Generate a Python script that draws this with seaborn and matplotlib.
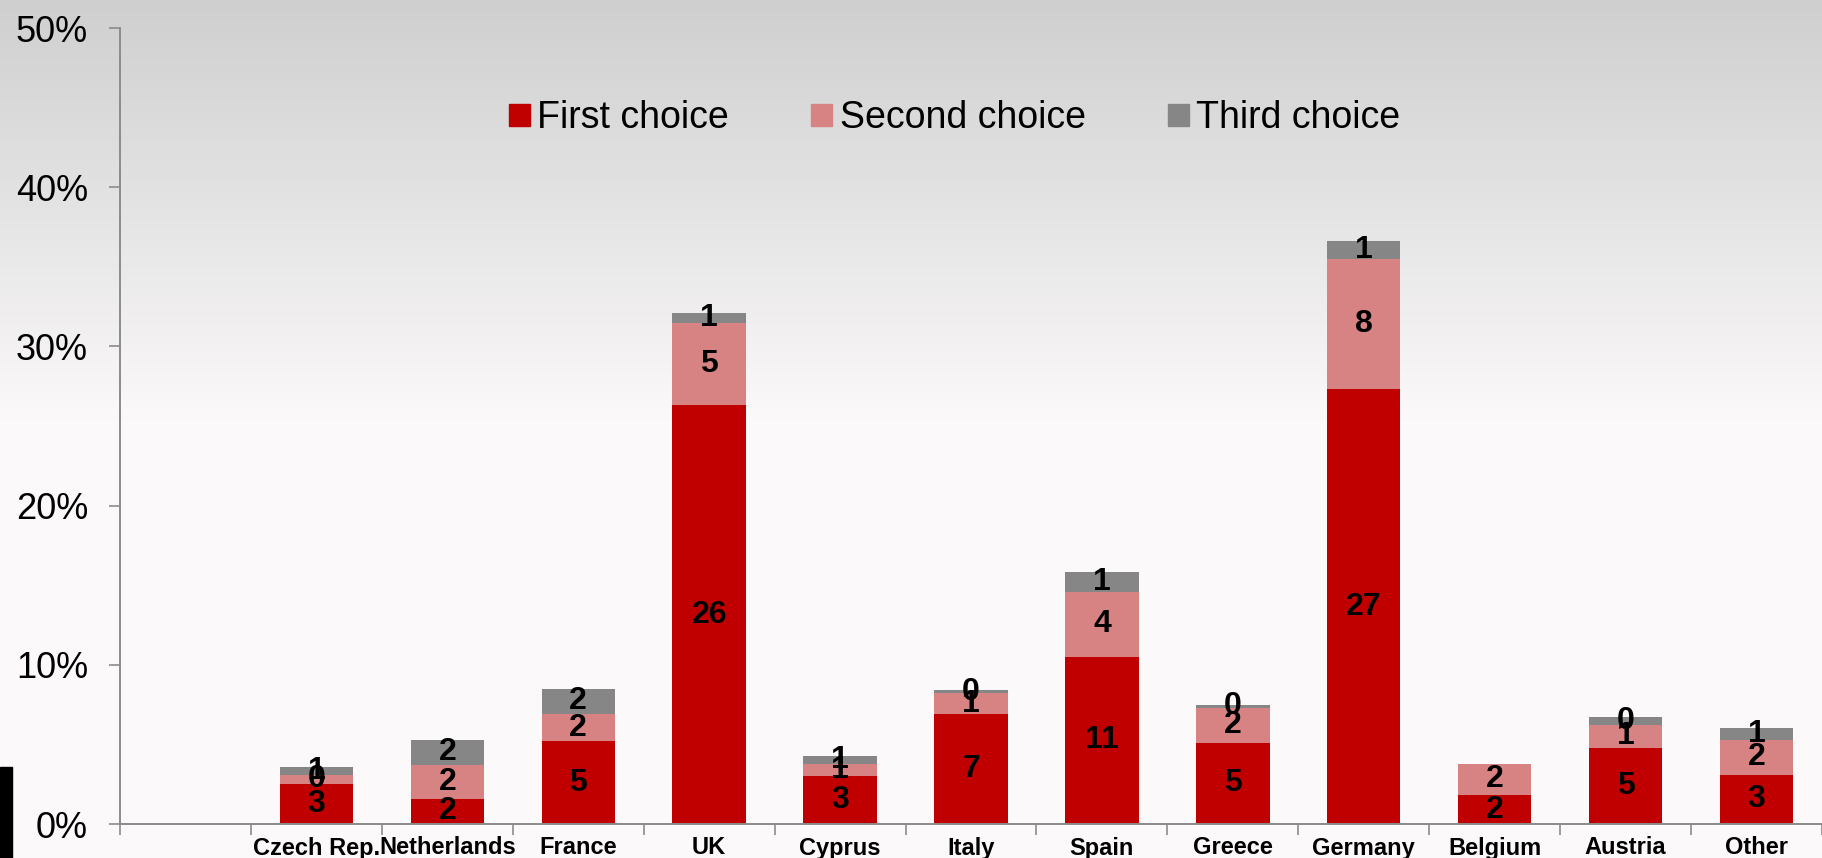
import numpy as np
import pandas as pd
import matplotlib
matplotlib.use("Agg")
import matplotlib.pyplot as plt
import matplotlib.patches as mpatches
from matplotlib.ticker import FixedLocator, PercentFormatter
import seaborn as sns

# ---------------- data (percent of respondents) ----------------
countries = ["Czech Rep.", "Netherlands", "France", "UK", "Cyprus", "Italy",
             "Spain", "Greece", "Germany", "Belgium", "Austria", "Other"]
first_choice = [2.5, 1.6, 5.2, 26.3, 3.0, 6.9, 10.5, 5.1, 27.3, 1.8, 4.8, 3.1]
second_choice = [0.6, 2.1, 1.7, 5.2, 0.8, 1.3, 4.1, 2.2, 8.2, 2.0, 1.4, 2.2]
third_choice = [0.5, 1.6, 1.6, 0.6, 0.5, 0.2, 1.2, 0.2, 1.1, 0.0, 0.5, 0.7]

first_labels = ["3", "2", "5", "26", "3", "7", "11", "5", "27", "2", "5", "3"]
second_labels = ["0", "2", "2", "5", "1", "1", "4", "2", "8", "2", "1", "2"]
third_labels = ["1", "2", "2", "1", "1", "0", "1", "0", "1", "", "0", "1"]

series_names = ["First choice", "Second choice", "Third choice"]
colors = {"First choice": "#c00000", "Second choice": "#d78383", "Third choice": "#868686"}

# first slot on the axis is left empty in the original
order = [" "] + countries

df = pd.DataFrame({
    "country": countries,
    "first": first_choice,
    "second": second_choice,
    "third": third_choice,
})
df["cum2"] = df["first"] + df["second"]
df["cum3"] = df["cum2"] + df["third"]

sns.set_theme(style="white")
plt.rcParams.update({
    "font.family": ["Liberation Sans", "DejaVu Sans"],
    "text.color": "black",
    "xtick.labelcolor": "black",
    "ytick.labelcolor": "black",
})

W, H, DPI = 1822, 858, 100
fig = plt.figure(figsize=(W / DPI, H / DPI), dpi=DPI)

# background gradient (grey at top fading into near white)
bg = fig.add_axes([0, 0, 1, 1], zorder=-10)
rows = np.linspace(0, 1, 400)
top = np.array([0.812, 0.812, 0.812])
bot = np.array([0.988, 0.980, 0.984])
t = np.clip(rows / 0.5, 0, 1)[:, None]
grad = top * (1 - t) + bot * t
bg.imshow(grad[:, None, :], aspect="auto", extent=[0, 1, 0, 1], origin="upper")
bg.set_axis_off()

ax = fig.add_axes([120 / W, 1 - 824 / H, 1 - 120 / W, (824 - 28) / H])
ax.patch.set_alpha(0)

bar_w = 0.56
# draw cumulative totals back to front so segments stack
sns.barplot(data=df, x="country", y="cum3", order=order, color=colors["Third choice"],
            width=bar_w, saturation=1, ax=ax, linewidth=0)
sns.barplot(data=df, x="country", y="cum2", order=order, color=colors["Second choice"],
            width=bar_w, saturation=1, ax=ax, linewidth=0)
sns.barplot(data=df, x="country", y="first", order=order, color=colors["First choice"],
            width=bar_w, saturation=1, ax=ax, linewidth=0)

# segment value labels
lab_kw = dict(ha="center", va="center", fontsize=23, fontweight="bold", color="black")
for i, c in enumerate(countries):
    xpos = order.index(c)
    f, s, th = first_choice[i], second_choice[i], third_choice[i]
    ax.text(xpos, f / 2, first_labels[i], **lab_kw)
    ax.text(xpos, f + s / 2, second_labels[i], **lab_kw)
    if third_labels[i]:
        ax.text(xpos, f + s + th / 2, third_labels[i], **lab_kw)

ax.set_xlim(-0.5, len(order) - 0.5)
ax.set_ylim(0, 50)
ax.yaxis.set_major_locator(FixedLocator([0, 10, 20, 30, 40, 50]))
ax.yaxis.set_major_formatter(PercentFormatter(decimals=0))
ax.set_xlabel("")
ax.set_ylabel("")

# category labels at centres, tick marks at the slot boundaries
ax.set_xticks(range(len(order)))
ax.set_xticklabels(order, fontsize=17, fontweight="bold")
ax.set_xticks(np.arange(len(order) + 1) - 0.5, minor=True)
ax.tick_params(axis="x", which="major", length=0, pad=9)
ax.tick_params(axis="x", which="minor", length=8, width=1.2, color="#8c8c8c", direction="out",
               bottom=True)
ax.tick_params(axis="y", which="major", length=8, width=1.2, color="#8c8c8c", direction="out",
               left=True, labelsize=26, pad=15)

for side in ["top", "right"]:
    ax.spines[side].set_visible(False)
for side in ["left", "bottom"]:
    ax.spines[side].set_color("#8c8c8c")
    ax.spines[side].set_linewidth(1.4)

handles = [mpatches.Patch(color=colors[n], label=n) for n in series_names]
fig.legend(handles=handles, loc="center", bbox_to_anchor=(0.524, 0.862), ncol=3,
           frameon=False, fontsize=27, handlelength=0.55, handleheight=0.55,
           handletextpad=0.2, columnspacing=2.2)

# small black block in the bottom-left corner
fig.patches.append(mpatches.Rectangle((0, 0), 12 / W, 91 / H, transform=fig.transFigure,
                                      color="black", zorder=5))

fig.savefig("out.png", dpi=DPI)
